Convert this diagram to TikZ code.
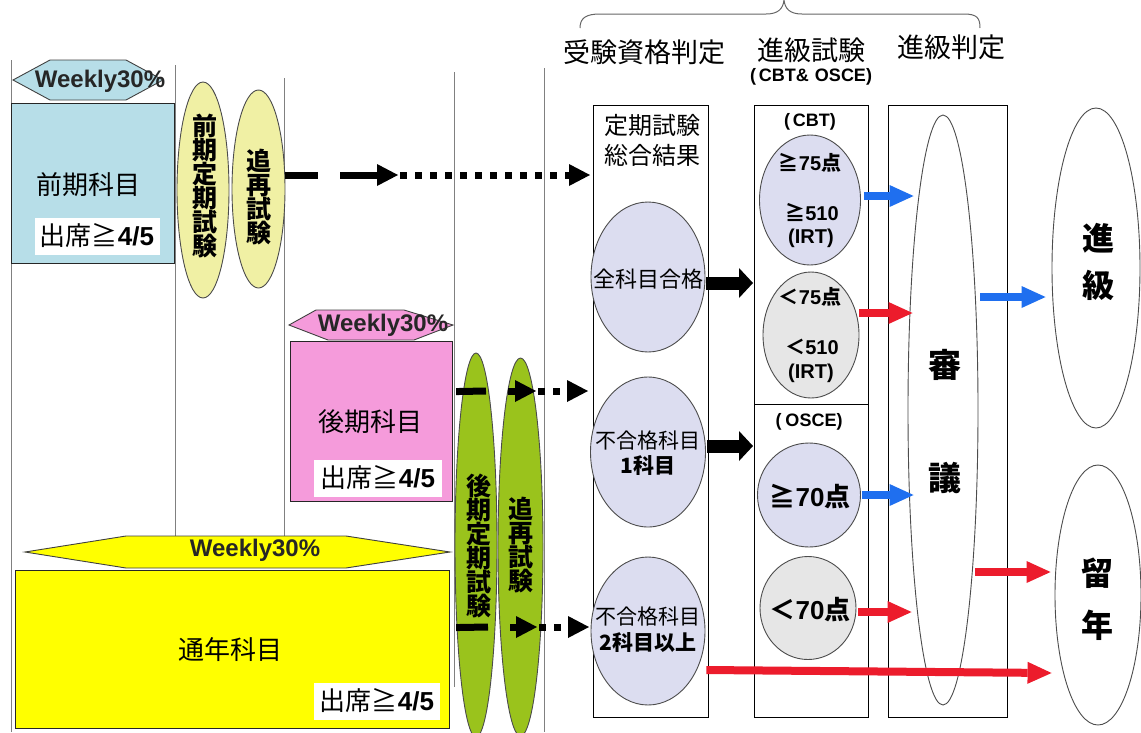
\documentclass[tikz,border=0pt]{standalone}
\usepackage{fontspec}
\setmainfont{Liberation Sans}
\newfontfamily\jp{Noto Sans CJK JP}
\usetikzlibrary{shapes.geometric,arrows.meta,calc}
\definecolor{lblue}{HTML}{B7DEE8}
\definecolor{pinkc}{HTML}{F59BDB}
\definecolor{yelc}{HTML}{FFFF00}
\definecolor{pyel}{HTML}{F0F0A4}
\definecolor{grn}{HTML}{9AC31C}
\definecolor{lav}{HTML}{DCDDF0}
\definecolor{lgray}{HTML}{E6E6E6}
\definecolor{barrow}{HTML}{1F6FEF}
\definecolor{rarrow}{HTML}{EC1C2C}
\definecolor{vline}{HTML}{808080}
\newcommand\attend{{\jp 出席≧}\textbf{4/5}}
\tikzset{
  vl/.style={draw=vline, line width=1pt},
  cbox/.style={draw=black!85, line width=1.1pt, inner sep=0pt},
  colbox/.style={draw=black, line width=1pt, fill=white, inner sep=0pt},
  hexa/.style={draw=black!75, line width=0.9pt},
  oval/.style={ellipse, draw=black!70, line width=0.9pt, inner sep=0pt, align=center},
  attbox/.style={fill=white, inner sep=0pt, font=\fontsize{26}{28}\selectfont},
  jtxt/.style={font=\jp\fontsize{26}{28}\selectfont, inner sep=0pt},
  head/.style={font=\jp\fontsize{27}{29}\selectfont, inner sep=0pt},
  wk/.style={font=\bfseries\fontsize{24}{26}\selectfont, inner sep=0pt, text=black!85},
  vtxt/.style={font=\jp\bfseries\fontsize{25}{24}\selectfont, align=center, inner sep=0pt},
  big/.style={font=\jp\bfseries\fontsize{32}{34}\selectfont, inner sep=0pt},
  small/.style={font=\bfseries\fontsize{18}{20}\selectfont, inner sep=0pt},
  score/.style={font=\bfseries\fontsize{20}{22}\selectfont, inner sep=0pt},
  bigscore/.style={font=\bfseries\fontsize{26}{28}\selectfont, inner sep=0pt},
  blkarr/.style={draw=black, line width=13pt, -{Triangle[length=14pt,width=30pt,line width=0pt]}},
  bluarr/.style={draw=barrow, line width=8pt, -{Triangle[length=24pt,width=22pt,line width=0pt]}},
  redarr/.style={draw=rarrow, line width=8pt, -{Triangle[length=24pt,width=22pt,line width=0pt]}},
  dshline/.style={draw=black, line width=7pt},
  dsharr/.style={draw=black, line width=7pt, -{Triangle[length=21pt,width=22pt,line width=0pt]}},
  dotarr/.style={dsharr, dash pattern=on 7pt off 8pt},
}
\begin{document}
\begin{tikzpicture}[x=1pt,y=-1pt]
\useasboundingbox (0,0) rectangle (1141,732);
% thin vertical guide lines
\draw[vl] (11,60) -- (11,732);
\draw[vl] (175,65) -- (175,536);
\draw[vl] (284,78) -- (284,536);
\draw[vl] (454,72) -- (454,687);
\draw[vl] (544,68) -- (544,732);
% top brace
\draw[draw=black!60, line width=1pt] (580,28) .. controls (580,18) and (586,14) .. (600,14) -- (766,14) .. controls (778,14) and (783,9) .. (784,0) .. controls (785,9) and (790,14) .. (802,14) -- (964,14) .. controls (977,14) and (980,18) .. (980,28);
% headers
\node[head] (h1) at (644,52) {受験資格判定};
\node[head] (h2) at (811,50) {進級試験};
\node[small] (h2b) at (811,77) {(\hspace{3pt}CBT\&\hspace{6pt}OSCE)};
\node[head] (h3) at (951,47) {進級判定};
% first semester
\node[cbox, fill=lblue, minimum width=163pt, minimum height=160pt, anchor=north west] (zbox) at (11,103) {};
\draw[hexa, fill=lblue] (13,80) -- (50,60) -- (126,60) -- (163,80) -- (126,100) -- (50,100) -- cycle;
\node[wk] (zwk) at (100,81) {Weekly30\%};
\node[jtxt] (ztxt) at (88,185) {前期科目};
\node[attbox, minimum width=125pt, minimum height=37pt] (zatt) at (97,236) {\attend};
\node[oval, fill=pyel, minimum width=52pt, minimum height=216pt] (zexam) at (203,190) {};
\node[vtxt] (zexamt) at (205,186) {前\\期\\定\\期\\試\\験};
\node[oval, fill=pyel, minimum width=53pt, minimum height=198pt] (zre) at (258.5,189) {};
\node[vtxt] (zret) at (258.5,197) {追\\再\\試\\験};
% second semester
\draw[hexa, fill=pinkc] (289,325) -- (316,310) -- (404,310) -- (453,325) -- (414,340) -- (328,340) -- cycle;
\node[cbox, fill=pinkc, minimum width=162pt, minimum height=160pt, anchor=north west] (kbox) at (290,341) {};
\node[wk] (kwk) at (383,325) {Weekly30\%};
\node[jtxt] (ktxt) at (370,422) {後期科目};
\node[attbox, minimum width=128pt, minimum height=37pt] (katt) at (378,478) {\attend};
% full year
\draw[hexa, fill=yelc] (25,552) -- (126,536) -- (346,536) -- (450,552) -- (346,568) -- (126,568) -- cycle;
\node[wk] (twk) at (255,550) {Weekly30\%};
\node[cbox, fill=yelc, minimum width=434pt, minimum height=158pt, anchor=north west] (tbox) at (15,570) {};
\node[jtxt] (ttxt) at (230,650) {通年科目};
\node[attbox, minimum width=126pt, minimum height=37pt] (tatt) at (377,701) {\attend};
% green exams
\node[oval, fill=grn, minimum width=42pt, minimum height=384pt] (kexam) at (476,545) {};
\node[vtxt] (kexamt) at (479,546) {後\\期\\定\\期\\試\\験};
\node[oval, fill=grn, minimum width=45pt, minimum height=378pt] (kre) at (520.5,547) {};
\node[vtxt] (kret) at (520.5,545) {追\\再\\試\\験};
% right columns
\node[colbox, minimum width=115pt, minimum height=612pt, anchor=north west] (colA) at (593,105) {};
\node[colbox, minimum width=114pt, minimum height=612pt, anchor=north west] (colB) at (754,105) {};
\node[colbox, minimum width=119pt, minimum height=612pt, anchor=north west] (colC) at (888,105) {};
\coordinate (cbtend) at (811,404);
\draw[black, line width=1pt] (cbtend -| colB.west) -- (cbtend -| colB.east);
\node[font=\jp\fontsize{24}{30}\selectfont, align=center, inner sep=0pt] (colAt) at (652,140) {定期試験\\総合結果};
% column A ovals
\node[oval, fill=lav, minimum width=114pt, minimum height=150pt] (pass) at (648,277) {};
\node[font=\jp\fontsize{22}{24}\selectfont, inner sep=0pt] (passt) at (648,279) {全科目合格};
\node[oval, fill=lav, minimum width=115pt, minimum height=150pt] (fail1) at (648,452) {};
\node[font=\jp\fontsize{21}{25}\selectfont, inner sep=0pt, align=center] (fail1t) at (648,453) {不合格科目\\{\bfseries 1}{\jp\bfseries 科目}};
\node[oval, fill=lav, minimum width=114pt, minimum height=148pt] (fail2) at (648,631) {};
\node[font=\jp\fontsize{21}{26}\selectfont, inner sep=0pt, align=center] (fail2t) at (648,630) {不合格科目\\{\bfseries 2}{\jp\bfseries 科目以上}};
% column B
\node[small] (cbt) at (810,122) {(\hspace{3pt}CBT)};
\node[oval, fill=lav, minimum width=101pt, minimum height=130pt] (e75) at (810,200) {};
\node[score] (e75a) at (810,163) {{\jp ≧}75{\jp 点}};
\node[score] (e75b) at (812,212) {{\jp ≧}510};
\node[score] (e75c) at (811,238) {(IRT)};
\node[oval, fill=lgray, minimum width=96pt, minimum height=126pt] (e75n) at (811,335) {};
\node[score] (e75na) at (810,297) {{\jp ＜}75{\jp 点}};
\node[score] (e75nb) at (812,347) {{\jp ＜}510};
\node[score] (e75nc) at (811,373) {(IRT)};
\node[small] (osce) at (809,422) {(\hspace{4pt}OSCE)};
\node[oval, fill=lav, minimum width=103pt, minimum height=104pt] (e70) at (809,495) {};
\node[bigscore] (e70t) at (810,497) {{\jp ≧}70{\jp 点}};
\node[oval, fill=lgray, minimum width=96pt, minimum height=103pt] (e70n) at (808,608) {};
\node[bigscore] (e70nt) at (810,610) {{\jp ＜}70{\jp 点}};
% column C
\node[oval, fill=white, minimum width=70pt, minimum height=590pt] (shin) at (943,410) {};
\node[big, font=\jp\bfseries\fontsize{33}{35}\selectfont] (shin1) at (945,365) {審};
\node[big, font=\jp\bfseries\fontsize{33}{35}\selectfont] (shin2) at (945,478) {議};
% outcomes
\node[oval, fill=white, minimum width=88pt, minimum height=320pt] (adv) at (1096,268) {};
\node[big] (adv1) at (1098,238) {進};
\node[big] (adv2) at (1098,285) {級};
\node[oval, fill=white, minimum width=86pt, minimum height=260pt] (rep) at (1098,595) {};
\node[big] (rep1) at (1097,573) {留};
\node[big] (rep2) at (1097,625) {年};
% dashed arrows to column A
\coordinate (p1) at (318,175);
\coordinate (p2) at (340,175);
\coordinate (p3) at (398,175);
\draw[dshline] ($(zre.east)+(0,-14)$) -- (p1);
\draw[dsharr] (p2) -- (p3);
\draw[dotarr] ($(p3)+(2,0)$) -- ($(colA.west |- p3)+(-3,0)$);
\coordinate (m1) at (486,391);
\coordinate (m2) at (508,391);
\coordinate (m3) at (536,391);
\draw[dshline] ($(kbox.east)+(3,-30)$) -- (m1);
\draw[dsharr] (m2) -- (m3);
\draw[dotarr] ($(m3)+(2,0)$) -- ($(colA.west |- m3)+(-5,0)$);
\coordinate (n1) at (488,627);
\coordinate (n2) at (510,627);
\coordinate (n3) at (537,627);
\draw[dshline] ($(tbox.east)+(6,-22)$) -- (n1);
\draw[dsharr] (n2) -- (n3);
\draw[dotarr] ($(n3)+(2,0)$) -- ($(colA.west |- n3)+(-4,0)$);
% black arrows
\draw[blkarr] ($(pass.east)+(1,6)$) -- ($(colB.west |- pass.east)+(-1,6)$);
\draw[blkarr] ($(fail1.east)+(1,-6)$) -- ($(colB.west |- fail1.east)+(-1,-6)$);
% blue / red arrows
\draw[bluarr] ($(e75.east)+(3,-4)$) -- ($(shin.west |- e75.east)+(6,-4)$);
\draw[redarr] ($(e75n.east)+(0,-22)$) -- ($(shin.west |- e75n.east)+(5,-22)$);
\draw[bluarr] ($(e70.east)+(1,0)$) -- ($(shin.west |- e70.east)+(6,0)$);
\draw[redarr] ($(e70n.east)+(2,4)$) -- ($(shin.west |- e70n.east)+(4,4)$);
\draw[bluarr] ($(shin.east)+(2,-113)$) -- ($(adv.west)+(-6,29)$);
\draw[redarr] ($(shin.east)+(-3,162)$) -- ($(rep.west)+(-4,-23)$);
\draw[redarr] ($(fail2.east)+(1,39)$) -- ($(rep.west)+(-3,78)$);
\end{tikzpicture}
\end{document}
